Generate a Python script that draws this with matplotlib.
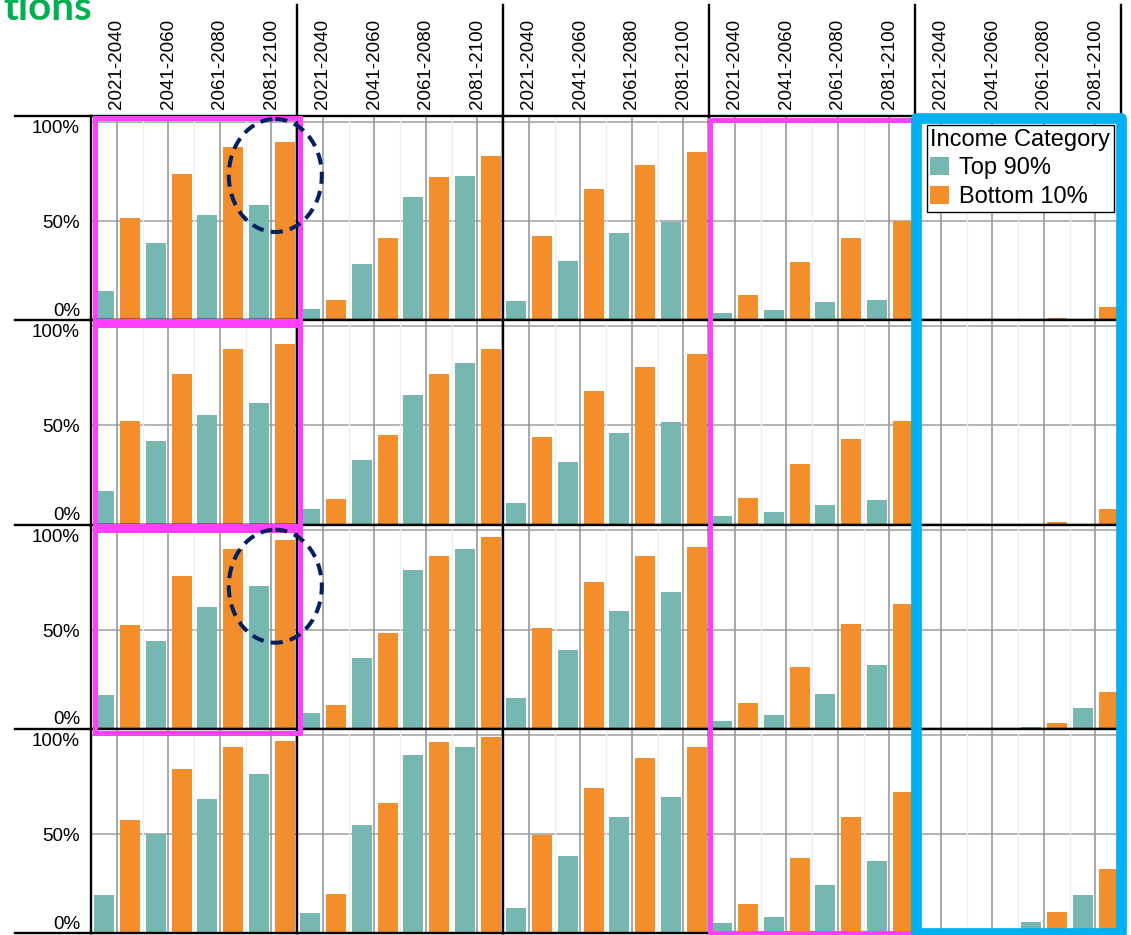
import matplotlib
matplotlib.use('Agg')
import matplotlib.pyplot as plt
import matplotlib.transforms as mtransforms
from matplotlib.patches import Rectangle, Ellipse, Patch
from matplotlib.lines import Line2D
import numpy as np

# ---------------- data ----------------
periods = ['2021-2040', '2041-2060', '2061-2080', '2081-2100']
series_names = ['Top 90%', 'Bottom 10%']
legend_title = 'Income Category'
y_ticks = [0, 50, 100]
y_tick_labels = ['0%', '50%', '100%']
title_fragment = 'tions'

# each list: 5 panels (columns) x 4 periods, values in %
top90_row1 = [[15.0, 39.0, 53.0, 58.0], [5.7, 28.5, 62.0, 72.5], [9.8, 30.0, 44.2, 49.4],
              [3.7, 5.2, 9.3, 10.3], [0.0, 0.0, 0.0, 0.0]]
bottom10_row1 = [[51.5, 73.5, 87.5, 90.0], [10.3, 41.7, 72.0, 82.6], [42.7, 66.4, 78.1, 84.7],
                 [12.8, 29.5, 41.7, 50.3], [0.0, 0.3, 1.2, 6.7]]

top90_row2 = [[16.9, 42.2, 55.3, 61.4], [7.8, 32.5, 65.4, 81.6], [10.8, 31.5, 46.2, 51.8],
              [4.1, 6.1, 9.6, 12.2], [0.0, 0.0, 0.0, 0.0]]
bottom10_row2 = [[52.3, 76.1, 88.7, 91.2], [12.8, 45.2, 76.1, 88.7], [44.2, 67.5, 79.6, 86.2],
                 [13.2, 30.4, 43.1, 52.2], [0.0, 0.3, 1.5, 7.6]]

top90_row3 = [[16.9, 44.2, 61.4, 72.0], [7.7, 35.9, 80.2, 90.8], [15.3, 39.9, 59.6, 69.1],
              [4.0, 7.1, 17.6, 32.3], [0.0, 0.0, 1.0, 10.6]]
bottom10_row3 = [[52.3, 77.1, 90.7, 95.3], [12.2, 48.5, 87.2, 96.8], [51.0, 74.2, 87.2, 91.8],
                 [13.1, 31.3, 52.9, 63.0], [0.0, 0.5, 3.0, 18.7]]

top90_row4 = [[19.3, 50.0, 67.4, 80.2], [9.9, 54.6, 89.6, 93.7], [12.5, 38.7, 58.7, 68.5],
              [4.8, 7.9, 24.3, 36.1], [0.0, 0.0, 5.3, 19.2]]
bottom10_row4 = [[57.2, 82.8, 94.0, 96.6], [19.7, 65.4, 96.2, 98.8], [49.5, 73.1, 88.5, 93.7],
                 [14.6, 37.7, 58.7, 71.1], [0.0, 0.0, 10.4, 32.5]]

top90_rows = [top90_row1, top90_row2, top90_row3, top90_row4]
bottom10_rows = [bottom10_row1, bottom10_row2, bottom10_row3, bottom10_row4]

# ---------------- style ----------------
TEAL = '#76B7B2'
ORANGE = '#F28E2B'
MAGENTA = '#FF40FF'
BLUE = '#00B0F0'
NAVY = '#002060'
GREEN = '#00B050'

plt.rcParams['font.family'] = ['Liberation Sans', 'DejaVu Sans']

W, H = 1131, 935
fig = plt.figure(figsize=(W / 100, H / 100), dpi=100)
fig.patch.set_facecolor('white')

# pixel-coordinate transform (origin top-left)
pxT = mtransforms.Affine2D().scale(1.0 / W, -1.0 / H).translate(0, 1) + fig.transFigure

LEFT, TOP = 91.0, 116.0
CW, RH = 206.0, 204.25
nrows, ncols = 4, 5
x = np.arange(len(periods))
bw = 0.39

axes = [[None] * ncols for _ in range(nrows)]
for r in range(nrows):
    for c in range(ncols):
        l = (LEFT + CW * c) / W
        b = 1 - (TOP + RH * (r + 1)) / H
        ax = fig.add_axes([l, b, CW / W, RH / H])
        axes[r][c] = ax
        ax.set_xlim(-0.5, len(periods) - 0.5)
        ax.set_ylim(0, 103)
        # grid
        for yv in y_ticks[1:]:
            ax.axhline(yv, color='#b3b3b3', lw=1.4, zorder=1)
        for xv in x:
            ax.axvline(xv, color='#9a9a9a', lw=1.2, zorder=1.2)
        for xv in x[:-1] + 0.5:
            ax.axvline(xv, color='#f0f0f0', lw=1.0, zorder=1.5)
        ax.bar(x - 0.24, top90_rows[r][c], bw, color=TEAL, zorder=3, label=series_names[0])
        ax.bar(x + 0.26, bottom10_rows[r][c], bw, color=ORANGE, zorder=3, label=series_names[1])
        for s in ax.spines.values():
            s.set_linewidth(1.7)
            s.set_color('black')
            s.set_zorder(4)
        ax.set_yticks([])
        ax.set_xticks(x)
        if r == 0:
            ax.xaxis.tick_top()
            ax.set_xticklabels(periods, rotation=90, fontsize=13.5)
            ax.tick_params(axis='x', length=0, pad=5)
        else:
            ax.set_xticklabels([])
            ax.tick_params(axis='x', length=0)
        if c == 0:
            tr = mtransforms.blended_transform_factory(ax.transAxes, ax.transData)
            for lab, yb in zip(y_tick_labels, [2.2, 46.4, 94.4]):
                ax.text(-0.053, yb, lab, transform=tr, ha='right', va='baseline',
                        fontsize=13.5, color='black')

# legend inside top-right panel
handles = [Patch(facecolor=TEAL, edgecolor='none'), Patch(facecolor=ORANGE, edgecolor='none')]
leg = axes[0][4].legend(handles, series_names, title=legend_title, loc='upper right',
                        bbox_to_anchor=(1114 / W, 1 - 125 / H), bbox_transform=fig.transFigure,
                        borderaxespad=0, fontsize=17, title_fontsize=17, alignment='left',
                        fancybox=False, framealpha=1, edgecolor='black', borderpad=0.15,
                        handlelength=0.8, handleheight=0.8, handletextpad=0.4,
                        labelspacing=0.28)
leg.get_frame().set_linewidth(1.0)
leg.set_zorder(10)

# table-like extra lines
row_lines = [TOP + RH * i for i in range(nrows + 1)]
for yv in row_lines:
    fig.add_artist(Line2D([15, LEFT], [yv, yv], transform=pxT, color='black', lw=1.7))
for c in range(1, ncols + 1):
    xv = LEFT + CW * c
    fig.add_artist(Line2D([xv, xv], [5, TOP], transform=pxT, color='black', lw=1.7))

# highlight boxes
for (x0, y0, x1, y1) in [(94.5, 117.5, 299.5, 320.5), (94.5, 325, 299.5, 526),
                         (94.5, 529.5, 299.5, 733), (710, 119.5, 914, 933)]:
    fig.add_artist(Rectangle((x0, y0), x1 - x0, y1 - y0, transform=pxT, fill=False,
                             edgecolor=MAGENTA, lw=3.6, zorder=5))
fig.add_artist(Rectangle((915.5, 118.3), 1120.5 - 915.5, 932.5 - 118.3, transform=pxT, fill=False,
                         edgecolor=BLUE, lw=7.7, joinstyle='round', zorder=6))

# dashed ellipses
for (cx, cy) in [(275.3, 175.5), (275.3, 586.2)]:
    fig.add_artist(Ellipse((cx, cy), 93, 113, transform=pxT, fill=False, edgecolor=NAVY,
                           lw=2.9, linestyle=(0, (3.0, 1.8)), zorder=7))

# cut-off title fragment (as in the reference, it runs off the top-left corner)
fig.text(92, 20, title_fragment, transform=pxT, ha='right', va='baseline', fontsize=29,
         fontweight='bold', color=GREEN, family=['Lato', 'DejaVu Sans'])

fig.savefig('out.png', dpi=100, facecolor='white')
